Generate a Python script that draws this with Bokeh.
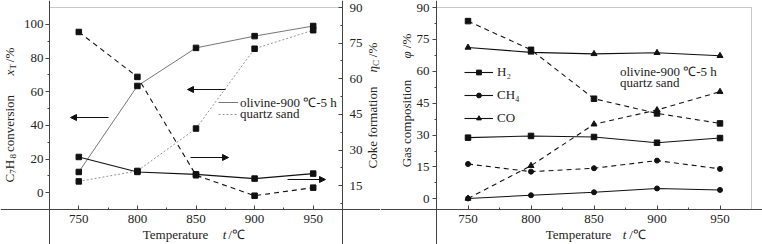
import math
from bokeh.plotting import figure
from bokeh.models import (Range1d, LinearAxis, FixedTicker, Label, Arrow,
                          NormalHead, Legend, LegendItem, BoxAnnotation)
from bokeh.layouts import row
from bokeh.embed import file_html
from bokeh.resources import INLINE

# ---------------- data ----------------
temps = [750, 800, 850, 900, 950]
x_ticks = [750, 800, 850, 900, 950]

# left chart: toluene conversion (left axis) and coke formation (right axis)
conv_olivine = [12.3, 63.4, 86.0, 93.0, 99.0]
conv_quartz = [6.7, 12.9, 38.1, 85.5, 96.5]
coke_olivine = [27.1, 20.8, 19.8, 18.0, 20.1]
coke_quartz = [79.7, 60.8, 19.4, 10.8, 14.2]
left_ticks = [0, 20, 40, 60, 80, 100]
coke_ticks = [15, 30, 45, 60, 75, 90]

# right chart: gas composition
h2_olivine = [28.8, 29.6, 29.1, 26.4, 28.6]
h2_quartz = [83.6, 70.1, 47.1, 40.2, 35.5]
ch4_olivine = [0.2, 1.7, 3.1, 4.9, 4.2]
ch4_quartz = [16.4, 12.8, 14.4, 18.0, 14.1]
co_olivine = [71.2, 68.9, 68.2, 68.7, 67.3]
co_quartz = [0.2, 15.6, 35.1, 41.8, 50.4]
gas_ticks = [0, 15, 30, 45, 60, 75, 90]

FONT = "Liberation Serif"
FS = "13px"
AX = "#444444"
TXT = "#222222"
INK = "#111111"
H = 244

X_VIS = (725, 975)
L_YR = (-10, 110)
L_Y2 = (5, 90)
R_YR = (-5, 90)

# visible plot boxes in screen px: (left, right, top, bottom) inside each figure
L_BOX = (49, 342, 7, 209)
R_BOX = (56, 371, 7, 209)


def full_range(lo, hi, p_lo, p_hi, total, flip=False):
    """Extend a value range so that [lo, hi] sits at pixels [p_lo, p_hi] of the canvas."""
    k = (p_hi - p_lo) / (hi - lo)
    if not flip:
        return lo - p_lo / k, hi + (total - p_hi) / k
    return lo - (total - p_hi) / k, hi + p_lo / k


def to_data(box, yr, sx, sy):
    x = X_VIS[0] + (sx - box[0]) / (box[1] - box[0]) * (X_VIS[1] - X_VIS[0])
    y = yr[1] - (sy - box[2]) / (box[3] - box[2]) * (yr[1] - yr[0])
    return x, y


def style_axis(ax, tick_in, tick_out, minor_in, minor_out, standoff):
    ax.major_tick_in = tick_in
    ax.major_tick_out = tick_out
    ax.minor_tick_in = minor_in
    ax.minor_tick_out = minor_out
    ax.major_label_standoff = standoff
    ax.axis_line_color = AX
    ax.major_tick_line_color = AX
    ax.minor_tick_line_color = AX
    ax.major_label_text_font = FONT
    ax.major_label_text_font_size = FS
    ax.major_label_text_color = TXT


def make_fig(width, box, yr):
    xr = full_range(X_VIS[0], X_VIS[1], box[0], box[1], width)
    yr_full = full_range(yr[0], yr[1], box[2], box[3], H, flip=True)
    p = figure(width=width, height=H, x_range=Range1d(*xr), y_range=Range1d(*yr_full),
               output_backend="svg", toolbar_location=None, min_border=0)
    p.xgrid.visible = False
    p.ygrid.visible = False
    p.outline_line_color = None
    xa = p.xaxis[0]
    xa.fixed_location = yr[0]
    xa.ticker = FixedTicker(ticks=x_ticks, minor_ticks=[775, 825, 875, 925])
    style_axis(xa, 4, 0, 2, 0, 5)
    ya = p.yaxis[0]
    ya.fixed_location = X_VIS[0]
    style_axis(ya, 0, 4, 0, 2, 2)
    p.add_layout(BoxAnnotation(left=X_VIS[0], right=X_VIS[1], bottom=yr[0], top=yr[1],
                               fill_alpha=0, line_color=AX, line_width=1))
    return p


def add_text(p, sx, sy, text, size=FS, italic=False, angle=0.0):
    # centre-anchored text, screen px from the canvas' top-left corner
    p.add_layout(Label(x=sx, y=H - sy, x_units="screen", y_units="screen", text=text,
                       angle=angle, text_align="center", text_baseline="middle",
                       text_font=FONT, text_font_size=size,
                       text_font_style="italic" if italic else "normal",
                       text_color=TXT))


def rot_title(p, sx, sy, segments):
    # segments: (text, size, italic, right-shift, advance, explicit start or None)
    cur = sy
    for text, size, italic, dx, adv, start in segments:
        if start is not None:
            cur = start
        add_text(p, sx + dx, cur - adv / 2.0, text, size=size, italic=italic,
                 angle=math.pi / 2)
        cur -= adv


def add_arrow(p, box, yr, sx0, sy, sx1):
    x0, y0 = to_data(box, yr, sx0, sy)
    x1, _ = to_data(box, yr, sx1, sy)
    p.add_layout(Arrow(x_start=x0, y_start=y0, x_end=x1, y_end=y0, line_color=INK,
                       line_width=1,
                       end=NormalHead(size=6, fill_color=INK, line_color=INK, line_width=1)))


def key_legend(p, label, renderer, sx, sy_bottom, glyph_width=20, standoff=2):
    leg = Legend(items=[LegendItem(label=label, renderers=[renderer])],
                 location=(sx, H - sy_bottom), orientation="vertical", padding=0,
                 margin=0, spacing=0, glyph_width=glyph_width, glyph_height=12,
                 label_standoff=standoff, label_text_font=FONT,
                 label_text_font_size=FS, label_text_color=TXT,
                 background_fill_alpha=0, border_line_alpha=0)
    p.add_layout(leg, "center")


# ================= left chart =================
p1 = make_fig(380, L_BOX, L_YR)
p1.yaxis[0].ticker = FixedTicker(ticks=left_ticks, minor_ticks=[10, 30, 50, 70, 90])
y2 = full_range(L_Y2[0], L_Y2[1], L_BOX[2], L_BOX[3], H, flip=True)
p1.extra_y_ranges = {"coke": Range1d(*y2)}
ax2 = LinearAxis(y_range_name="coke", fixed_location=X_VIS[1])
ax2.ticker = FixedTicker(ticks=coke_ticks, minor_ticks=[7.5, 22.5, 37.5, 52.5, 67.5, 82.5])
style_axis(ax2, 4, 0, 2, 0, 7)
p1.add_layout(ax2, "right")

r_co = p1.line(temps, conv_olivine, line_color="#666666", line_width=0.9)
r_cq = p1.line(temps, conv_quartz, line_color="#888888", line_width=0.9, line_dash="2 2")
p1.line(temps, coke_olivine, y_range_name="coke", line_color=INK, line_width=1.1)
p1.line(temps, coke_quartz, y_range_name="coke", line_color=INK, line_width=1.1,
        line_dash="5 4")
for ys, rn in [(conv_olivine, "default"), (conv_quartz, "default"),
               (coke_olivine, "coke"), (coke_quartz, "coke")]:
    p1.scatter(temps, ys, y_range_name=rn, marker="square", size=5.5,
               fill_color=INK, line_color=INK)

key_legend(p1, "olivine-900 ℃-5 h", r_co, 218, 110.5)
key_legend(p1, "quartz sand", r_cq, 218, 121.5)

add_arrow(p1, L_BOX, L_YR, 108, 117, 70)
add_arrow(p1, L_BOX, L_YR, 225, 89, 187)
add_arrow(p1, L_BOX, L_YR, 190, 157, 228)
add_arrow(p1, L_BOX, L_YR, 287, 179, 325)

# axis titles
rot_title(p1, 9, 182, [
    ("C", "13px", False, 0, 8.7, None),
    ("7", "9px", False, 3, 4.5, None),
    ("H", "13px", False, 0, 9.4, None),
    ("8", "9px", False, 3, 7.5, None),
    ("conversion", "13px", False, 0, 58, None),
    ("x", "13px", True, 0, 6.0, 75),
    ("T", "9px", False, 3, 5.5, None),
    ("/%", "13px", False, 0, 15, 62),
])
rot_title(p1, 372, 168, [
    ("Coke formation", "13px", False, 0, 82, None),
    ("η", "13px", True, 0, 6.5, 72),
    ("C", "9px", False, 3, 6.0, None),
    ("/%", "13px", False, 0, 15, 57),
])
add_text(p1, 175, 234, "Temperature")
add_text(p1, 224, 234, "t", italic=True)
add_text(p1, 236, 234, "/℃")

# ================= right chart =================
p2 = make_fig(382, R_BOX, R_YR)
p2.yaxis[0].ticker = FixedTicker(ticks=gas_ticks,
                                 minor_ticks=[7.5, 22.5, 37.5, 52.5, 67.5, 82.5])
p2.yaxis[0].major_label_standoff = 3

series = [
    (h2_olivine, "square", None, 5.5),
    (h2_quartz, "square", "5 4", 5.5),
    (ch4_olivine, "circle", None, 5),
    (ch4_quartz, "circle", "5 4", 5),
    (co_olivine, "triangle", None, 6),
    (co_quartz, "triangle", "5 4", 6),
]
rend = {}
for ys, mk, dash, sz in series:
    if dash is None:
        lr = p2.line(temps, ys, line_color=INK, line_width=1.1)
    else:
        lr = p2.line(temps, ys, line_color=INK, line_width=1.1, line_dash=dash)
    sr = p2.scatter(temps, ys, marker=mk, size=sz, fill_color=INK, line_color=INK)
    if dash is None:
        rend[mk] = [lr, sr]

leg2 = Legend(items=[LegendItem(label="H₂", renderers=rend["square"]),
                     LegendItem(label="CH₄", renderers=rend["circle"]),
                     LegendItem(label="CO", renderers=rend["triangle"])],
              location=(84, H - 126), orientation="vertical", padding=0, margin=0,
              spacing=7, glyph_width=29, glyph_height=12, label_standoff=4,
              label_text_font=FONT, label_text_font_size=FS,
              label_text_color=TXT,
              background_fill_alpha=0, border_line_alpha=0)
p2.add_layout(leg2, "center")

# line-style key (no data of its own)
k_ol = p2.line([], [], line_color="#666666", line_width=0.9)
k_qz = p2.line([], [], line_color="#888888", line_width=0.9, line_dash="2 2")
key_legend(p2, "olivine-900 ℃-5 h", k_ol, 218, 80)
key_legend(p2, "quartz sand", k_qz, 218, 91)

rot_title(p2, 26, 167, [
    ("Gas composition", "13px", False, 0, 88, None),
    ("φ", "13px", True, 0, 7, 58),
    ("/%", "13px", False, 0, 15, 48),
])
add_text(p2, 198, 234, "Temperature")
add_text(p2, 244, 234, "t", italic=True)
add_text(p2, 257, 234, "/℃")

layout = row(p1, p2, spacing=0)
open("out.html", "w").write(file_html(layout, INLINE))
